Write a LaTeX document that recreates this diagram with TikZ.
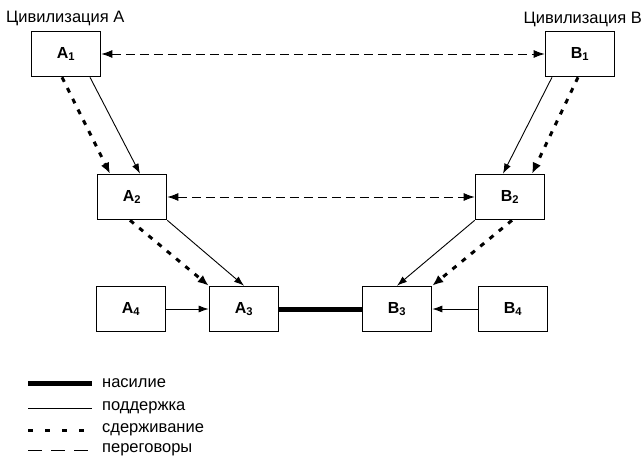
\documentclass[tikz,border=0pt]{standalone}
\usepackage{fontspec}
\setmainfont{Liberation Sans}
\usetikzlibrary{arrows.meta,calc}
\tikzset{
  civbox/.style={draw=black, line width=1.6pt, minimum width=69pt, minimum height=45pt, inner sep=0pt,
    font=\fontsize{16}{18}\selectfont\bfseries},
  support/.style={line width=0.9pt, -{Latex[length=10pt,width=7pt]}},
  contain/.style={line width=3pt, dash pattern=on 5pt off 7pt, -{Latex[length=11pt,width=9pt]}},
  negot/.style={line width=0.9pt, dash pattern=on 9pt off 5pt, {Latex[length=11pt,width=8pt]}-{Latex[length=11pt,width=8pt]}},
  violence/.style={line width=5pt},
  lbl/.style={font=\fontsize{16.5}{19}\selectfont, inner sep=0pt},
}
\begin{document}
\begin{tikzpicture}[x=1pt,y=-1pt]
\useasboundingbox (0,0) rectangle (642,460);
% labels
\node[lbl, anchor=west] (civA) at (6,18) {Цивилизация A};
\node[lbl, anchor=east] (civB) at (642,19) {Цивилизация B};
% boxes
\node[civbox] (A1) at (66,54) {A\textsubscript{1}};
\node[civbox] (B1) at (580,54) {B\textsubscript{1}};
\node[civbox] (A2) at (132,197) {A\textsubscript{2}};
\node[civbox] (B2) at (510,197) {B\textsubscript{2}};
\node[civbox] (A4) at (131,309) {A\textsubscript{4}};
\node[civbox] (A3) at (244,309) {A\textsubscript{3}};
\node[civbox] (B3) at (397,309) {B\textsubscript{3}};
\node[civbox] (B4) at (513,309) {B\textsubscript{4}};
% negotiations
\draw[negot] (A1.east) -- (B1.west);
\draw[negot] (A2.east) -- (B2.west);
% A side
\draw[contain] ([xshift=-4pt]A1.south) -- ([xshift=-22pt]A2.north);
\draw[support] ([xshift=24pt]A1.south) -- ([xshift=8pt]A2.north);
\draw[contain] ([xshift=-2pt]A2.south) -- (A3.north west);
\draw[support] (A2.south east) -- (A3.north);
% B side
\draw[support] ([xshift=-28pt]B1.south) -- ([xshift=-7pt]B2.north);
\draw[contain] ([xshift=-2pt]B1.south) -- ([xshift=22pt]B2.north);
\draw[support] (B2.south west) -- (B3.north);
\draw[contain] ([xshift=2pt]B2.south) -- (B3.north east);
% bottom row
\draw[support] (A4.east) -- (A3.west);
\draw[support] (B4.west) -- (B3.east);
\draw[violence] (A3.east) -- (B3.west);
% legend
\coordinate (l1a) at (28,383); \coordinate (l1b) at (92,383);
\coordinate (l2a) at (28,408); \coordinate (l2b) at (92,408);
\coordinate (l3a) at (28,430); \coordinate (l3b) at (92,430);
\coordinate (l4a) at (28,450); \coordinate (l4b) at (92,450);
\draw[violence] (l1a) -- (l1b);
\draw[line width=0.9pt] (l2a) -- (l2b);
\draw[line width=3pt, dash pattern=on 5pt off 12pt] (l3a) -- (l3b);
\draw[line width=0.9pt, dash pattern=on 14pt off 9pt] (l4a) -- (l4b);
\node[lbl, anchor=west] (t1) at (102,383) {насилие};
\node[lbl, anchor=west] (t2) at (102,408) {поддержка};
\node[lbl, anchor=west] (t3) at (102,430) {сдерживание};
\node[lbl, anchor=west] (t4) at (102,450) {переговоры};
\end{tikzpicture}
\end{document}
